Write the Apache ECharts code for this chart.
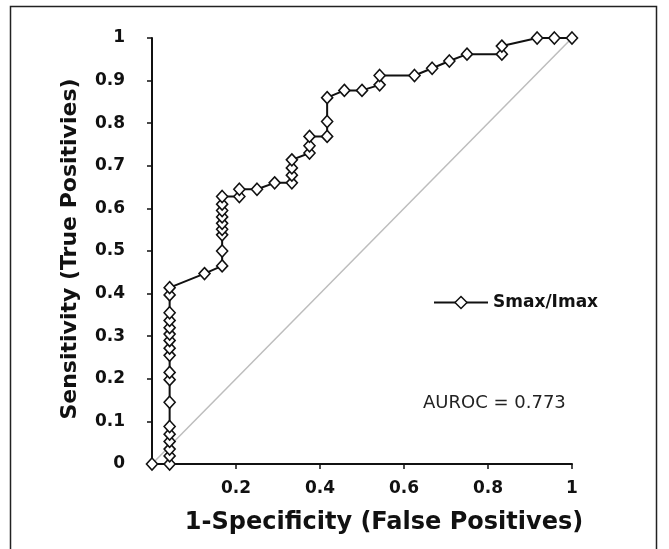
<!DOCTYPE html>
<html>
<head>
<meta charset="utf-8">
<script src="https://cdn.jsdelivr.net/npm/echarts@6/dist/echarts.min.js"></script>
<style>html,body{margin:0;padding:0;background:#fff;}#c{width:669px;height:549px;}</style>
</head>
<body>
<div id="c"></div>
<script>
// 1-Specificity (false positive rate)
const fpr = [0, 0.042, 0.042, 0.042, 0.042, 0.042, 0.042, 0.042, 0.042, 0.042, 0.042, 0.042, 0.042, 0.042, 0.042, 0.042, 0.042, 0.042, 0.042,
  0.125, 0.167, 0.167, 0.167, 0.167, 0.167, 0.167, 0.167, 0.167, 0.167, 0.208, 0.208, 0.25, 0.292, 0.333, 0.333, 0.333, 0.333,
  0.375, 0.375, 0.375, 0.417, 0.417, 0.417, 0.458, 0.5, 0.542, 0.542, 0.625, 0.667, 0.708, 0.75, 0.833, 0.833, 0.917, 0.958, 1.0];
// Sensitivity (true positive rate)
const tpr = [0, 0, 0.019, 0.035, 0.053, 0.070, 0.088, 0.145, 0.198, 0.215, 0.255, 0.272, 0.290, 0.305, 0.320, 0.337, 0.355, 0.397, 0.414,
  0.447, 0.465, 0.500, 0.538, 0.551, 0.565, 0.580, 0.595, 0.610, 0.628, 0.628, 0.645, 0.645, 0.660, 0.660, 0.678, 0.695, 0.714,
  0.730, 0.747, 0.769, 0.769, 0.804, 0.860, 0.877, 0.877, 0.890, 0.912, 0.912, 0.929, 0.946, 0.962, 0.962, 0.981, 1.0, 1.0, 1.0];
const chanceX = [0, 1];
const chanceY = [0, 1];
const seriesName = 'Smax/Imax';
const aurocText = 'AUROC = 0.773';
const xTitle = '1-Specificity (False Positives)';
const yTitle = 'Sensitivity (True Positivies)';

const rocData = fpr.map((x, i) => [x, tpr[i]]);
const chanceData = chanceX.map((x, i) => [x, chanceY[i]]);

const chart = echarts.init(document.getElementById('c'), null, {renderer: 'canvas'});
const F = 'DejaVu Sans';
chart.setOption({
  backgroundColor: '#fff',
  animation: false,
  grid: {left: 152, right: 97, top: 38, bottom: 85},
  legend: {
    data: [seriesName], left: 428, top: 289, itemWidth: 54, itemHeight: 15,
    itemStyle: {color: '#fff', borderColor: '#111', borderWidth: 1.5},
    lineStyle: {color: '#111', width: 2},
    textStyle: {fontFamily: F, fontWeight: 'bold', fontSize: 17, color: '#111'}
  },
  xAxis: {
    type: 'value', min: 0, max: 1, interval: 0.2,
    splitLine: {show: false},
    axisLine: {lineStyle: {color: '#111', width: 2}},
    axisTick: {length: 5, lineStyle: {color: '#111', width: 1.5}},
    axisLabel: {margin: 16, fontFamily: F, fontWeight: 'bold', fontSize: 17, color: '#111',
      formatter: v => v === 0 ? '' : String(+v.toFixed(1))}
  },
  yAxis: {
    type: 'value', min: 0, max: 1, interval: 0.1,
    splitLine: {show: false},
    axisLine: {onZero: false, lineStyle: {color: '#111', width: 2}},
    axisTick: {length: 5, lineStyle: {color: '#111', width: 1.5}},
    axisLabel: {margin: 27, fontFamily: F, fontWeight: 'bold', fontSize: 17, color: '#111',
      padding: [5, 0, 0, 0],
      formatter: v => v === 0 ? '0' : String(+v.toFixed(1))}
  },
  series: [
    {
      name: 'chance', type: 'line', data: chanceData, symbol: 'none', silent: true,
      lineStyle: {color: '#bdbdbd', width: 1.5}, z: 1
    },
    {
      name: seriesName, type: 'line', data: rocData,
      symbol: 'diamond', symbolSize: [11, 12],
      itemStyle: {color: '#fff', borderColor: '#111', borderWidth: 1.6},
      lineStyle: {color: '#111', width: 2}, z: 3
    }
  ],
  graphic: [
    {type: 'rect', shape: {x: 10.5, y: 6.5, width: 646, height: 560}, silent: true,
      style: {fill: 'none', stroke: '#222', lineWidth: 1.5}},
    {type: 'text', left: 423, top: 394, silent: true,
      style: {text: aurocText, fontFamily: F, fontSize: 18, fill: '#222'}},
    {type: 'text', x: 384, y: 523, silent: true,
      style: {text: xTitle, fontFamily: F, fontWeight: 'bold', fontSize: 24, fill: '#111', align: 'center', verticalAlign: 'middle'}},
    {type: 'text', x: 70, y: 249, rotation: Math.PI / 2, silent: true,
      style: {text: yTitle, fontFamily: F, fontWeight: 'bold', fontSize: 22, fill: '#111', align: 'center', verticalAlign: 'middle'}}
  ]
});
</script>
</body>
</html>
